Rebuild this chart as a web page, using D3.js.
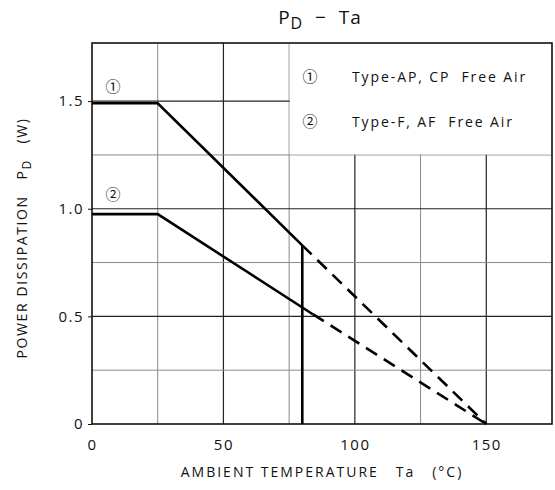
<!DOCTYPE html>
<html>
<head>
<meta charset="utf-8">
<script src="https://d3js.org/d3.v7.min.js"></script>
<style>
  body { margin: 0; background: #fff; }
  text { font-family: "Open Sans", "DejaVu Sans", sans-serif; fill: #111; }
  text.mark { font-family: "Noto Sans CJK JP", "DejaVu Sans", sans-serif; }
</style>
</head>
<body>
<div id="chart"></div>
<script>
// PD - Ta derating chart

// Data
// =========================
var tempTicks = [0, 50, 100, 150];
var powerTicks = [0, 0.5, 1.0, 1.5];
var tempGrid = [25, 50, 75, 100, 125, 150];
var powerGrid = [0.25, 0.5, 0.75, 1.0, 1.25, 1.5];

// Curve 1: Type-AP, CP
var ta1Solid = [0, 25, 80];
var pd1Solid = [1.49, 1.49, 0.83];
var ta1Dash = [80, 150];
var pd1Dash = [0.83, 0];
var ta1Cut = [80, 80];
var pd1Cut = [0.83, 0];

// Curve 2: Type-F, AF
var ta2Solid = [0, 25, 84];
var pd2Solid = [0.975, 0.975, 0.51];
var ta2Dash = [84, 150];
var pd2Dash = [0.51, 0];

var legendItems = ["Type-AP, CP  Free Air", "Type-F, AF  Free Air"];
var legendMarks = ["\u2460", "\u2461"];

// Sizes
// =====
var width = 555;
var height = 490;
var plotL = 92, plotR = 552, plotT = 43, plotB = 424;

var svg = d3.select("#chart")
    .append("svg")
    .attr("width", width)
    .attr("height", height);

var xScale = d3.scaleLinear().domain([0, 175]).range([plotL, plotR]);
var yScale = d3.scaleLinear().domain([0, 1.77]).range([plotB, plotT]);

function isMajorX(v) { return v % 50 === 0; }
function isMajorY(v) { return Math.abs(v * 2 - Math.round(v * 2)) < 1e-6; }

// Grid lines
svg.append("g").selectAll("line")
    .data(tempGrid).enter()
    .append("line")
    .attr("x1", function(d) { return xScale(d); })
    .attr("x2", function(d) { return xScale(d); })
    .attr("y1", plotB)
    .attr("y2", plotT)
    .attr("stroke", function(d) { return isMajorX(d) ? "#222" : "#8a8a8a"; })
    .attr("stroke-width", function(d) { return isMajorX(d) ? 1.2 : 1; });

svg.append("g").selectAll("line")
    .data(powerGrid).enter()
    .append("line")
    .attr("x1", plotL)
    .attr("x2", plotR)
    .attr("y1", function(d) { return yScale(d); })
    .attr("y2", function(d) { return yScale(d); })
    .attr("stroke", function(d) { return isMajorY(d) ? "#222" : "#8a8a8a"; })
    .attr("stroke-width", function(d) { return isMajorY(d) ? 1.2 : 1; });

// Legend box covers the upper right corner of the grid
svg.append("rect")
    .attr("x", xScale(75) + 0.5)
    .attr("y", plotT)
    .attr("width", plotR - xScale(75) - 0.5)
    .attr("height", yScale(1.25) - plotT - 0.5)
    .attr("fill", "#fff");

// Axes
var xAxis = d3.axisBottom(xScale).tickValues(tempTicks).tickSize(0).tickPadding(15)
    .tickFormat(d3.format("d"));
var yAxis = d3.axisLeft(yScale).tickValues(powerTicks).tickSize(4).tickPadding(4)
    .tickFormat(function(d) { return d === 0 ? "0" : d3.format(".1f")(d); });

var gx = svg.append("g")
    .attr("transform", "translate(0," + plotB + ")")
    .call(xAxis);
var gy = svg.append("g")
    .attr("transform", "translate(" + plotL + ",0)")
    .call(yAxis);
[gx, gy].forEach(function(g) {
    g.select(".domain").remove();
    g.selectAll("text").attr("font-size", 15).attr("letter-spacing", 1.5).style("fill", "#111");
    g.selectAll("line").attr("stroke", "#111");
});

// Frame
svg.append("rect")
    .attr("x", plotL)
    .attr("y", plotT)
    .attr("width", plotR - plotL)
    .attr("height", plotB - plotT)
    .attr("fill", "none")
    .attr("stroke", "#111")
    .attr("stroke-width", 1.6);

// Curves
var line = d3.line()
    .x(function(d) { return xScale(d[0]); })
    .y(function(d) { return yScale(d[1]); });

function draw(ta, pd, dashed) {
    svg.append("path")
        .datum(d3.zip(ta, pd))
        .attr("d", line)
        .attr("fill", "none")
        .attr("stroke", "#000")
        .attr("stroke-width", 2.6)
        .attr("stroke-dasharray", dashed ? "13,8" : null);
}
draw(ta1Solid, pd1Solid, false);
draw(ta1Dash, pd1Dash, true);
draw(ta1Cut, pd1Cut, false);
draw(ta2Solid, pd2Solid, false);
draw(ta2Dash, pd2Dash, true);

// Curve markers
svg.append("text")
    .attr("class", "mark")
    .attr("x", xScale(8)).attr("y", yScale(1.56))
    .attr("text-anchor", "middle").attr("dominant-baseline", "middle")
    .attr("font-size", 15).text(legendMarks[0]);
svg.append("text")
    .attr("class", "mark")
    .attr("x", xScale(8)).attr("y", yScale(1.06))
    .attr("text-anchor", "middle").attr("dominant-baseline", "middle")
    .attr("font-size", 15).text(legendMarks[1]);

// Legend
legendItems.forEach(function(t, i) {
    var y = 78 + i * 45;
    svg.append("text")
        .attr("class", "mark")
        .attr("x", 310).attr("y", y)
        .attr("text-anchor", "middle").attr("dominant-baseline", "middle")
        .attr("font-size", 15).text(legendMarks[i]);
    svg.append("text")
        .attr("x", 352).attr("y", y)
        .attr("dominant-baseline", "middle")
        .attr("font-size", 14)
        .attr("letter-spacing", 1.9)
        .style("white-space", "pre")
        .text(t);
});

// Title
var title = svg.append("text")
    .attr("x", 320).attr("y", 24)
    .attr("text-anchor", "middle")
    .attr("font-size", 19)
    .attr("letter-spacing", 1)
    .style("white-space", "pre");
title.append("tspan").text("P");
title.append("tspan").attr("dy", 5).attr("font-size", 16).text("D");
title.append("tspan").attr("dy", -5).text("  \u2212  Ta");

// Axis labels
svg.append("text")
    .attr("x", 322).attr("y", 477)
    .attr("text-anchor", "middle")
    .attr("font-size", 14)
    .attr("letter-spacing", 2)
    .style("white-space", "pre")
    .text("AMBIENT TEMPERATURE   Ta   (\u00b0C)");

var yl = svg.append("text")
    .attr("transform", "translate(27,238) rotate(-90)")
    .attr("text-anchor", "middle")
    .attr("font-size", 14)
    .attr("letter-spacing", 1.6)
    .style("white-space", "pre");
yl.append("tspan").text("POWER DISSIPATION   P");
yl.append("tspan").attr("dy", 4).attr("font-size", 12).text("D");
yl.append("tspan").attr("dy", -4).text("   (W)");
</script>
</body>
</html>
